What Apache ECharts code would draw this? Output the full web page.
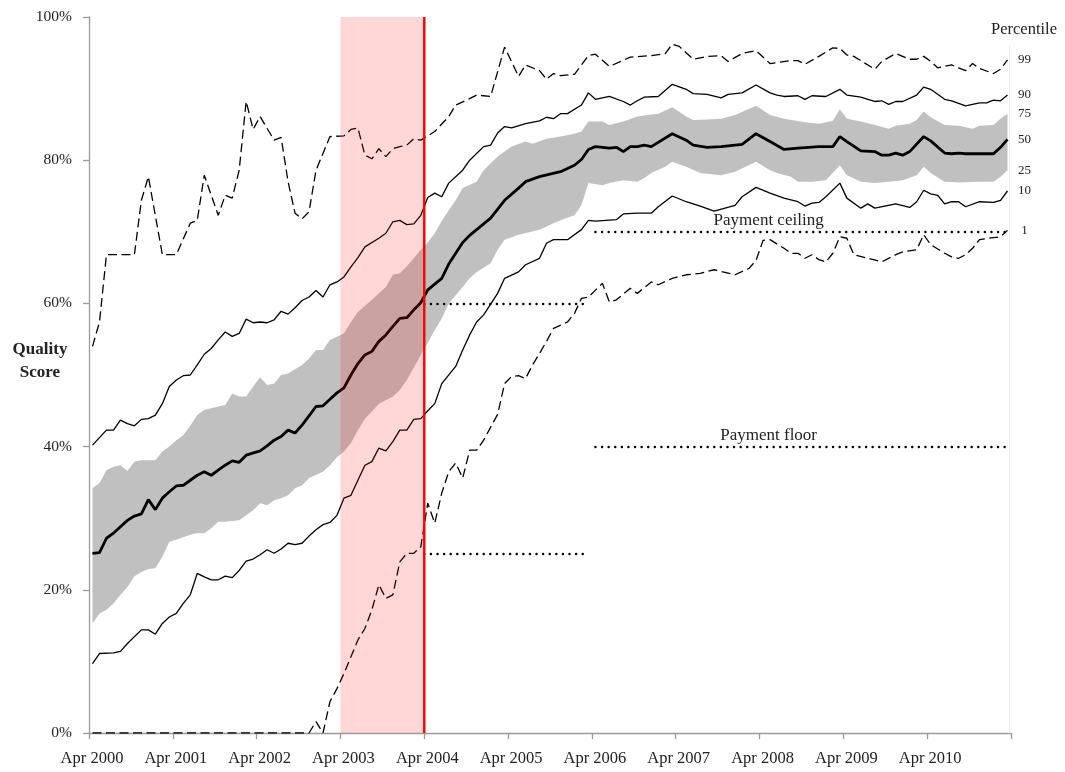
<!DOCTYPE html>
<html>
<head>
<meta charset="utf-8">
<script src="https://cdn.jsdelivr.net/npm/echarts@6/dist/echarts.min.js"></script>
<style>
  html, body { margin: 0; padding: 0; background: #fff; }
  #chart { width: 1065px; height: 772px; }
</style>
</head>
<body>
<div id="chart"></div>
<script>
// Quality score percentiles by month. Month index 0 = Apr 2000, 131 = Mar 2011.
// Each entry: [monthIndex, percent]
const p99 = [[0,54.0],[1,57.4],[2,66.8],[6,66.8],[7,74.4],[8,77.7],[10,66.8],[12,66.8],[14,71.2],[15,71.6],[16,77.9],[18,72.3],[19,75.1],[20,74.7],[21,78.6],[22,88.2],[23,84.3],[24,86.1],[26,82.8],[27,83.2],[28,77.0],[29,72.6],[30,71.8],[31,72.8],[32,78.6],[34,83.3],[36,83.4],[37,84.3],[38,84.5],[39,80.7],[40,80.2],[41,81.6],[42,80.5],[43,81.6],[44,81.9],[45,82.1],[46,83.0],[47,82.8],[49,84.0],[51,86.1],[52,87.7],[54,88.6],[55,89.1],[57,88.9],[59,95.8],[61,91.7],[62,93.3],[64,92.5],[65,91.3],[66,92.1],[67,91.8],[69,92.0],[71,94.6],[72,94.8],[74,93.1],[77,94.4],[80,94.6],[82,94.9],[83,96.2],[84,95.9],[86,94.1],[88,94.5],[90,94.6],[91,93.8],[93,94.9],[95,95.3],[97,93.5],[100,93.9],[101,93.9],[102,93.4],[104,94.5],[106,95.7],[107,95.6],[108,94.7],[109,94.5],[112,92.7],[113,93.8],[115,94.9],[117,94.1],[118,94.1],[119,94.5],[120,93.8],[121,92.9],[123,93.3],[124,92.9],[125,92.5],[126,93.5],[127,92.8],[129,92.1],[130,92.7],[131,94.0]];

const p90 = [[0,40.2],[2,42.3],[3,42.3],[4,43.7],[5,43.2],[6,42.9],[7,43.8],[8,43.9],[9,44.4],[10,46.0],[11,48.4],[12,49.3],[13,49.9],[14,50.0],[15,51.4],[16,52.9],[17,53.7],[18,54.9],[19,56.0],[20,55.4],[21,55.8],[22,57.8],[23,57.3],[24,57.4],[25,57.3],[26,57.7],[27,58.9],[28,58.5],[29,59.4],[30,60.4],[31,60.9],[32,61.8],[33,60.9],[34,62.6],[35,63.0],[36,63.7],[37,65.1],[38,66.4],[39,67.9],[41,69.1],[42,69.8],[43,71.4],[44,71.6],[45,71.0],[46,71.1],[47,72.3],[48,74.8],[49,75.4],[50,74.9],[51,76.8],[53,78.6],[54,80.0],[56,81.9],[57,82.1],[58,83.8],[59,84.7],[60,84.5],[62,85.1],[64,85.5],[65,86.0],[66,85.8],[67,86.5],[68,86.5],[70,87.7],[71,89.4],[72,88.5],[74,88.9],[76,88.2],[77,87.7],[78,88.3],[79,88.8],[81,88.9],[83,90.6],[85,89.9],[86,89.3],[88,89.2],[90,88.7],[91,89.2],[93,89.4],[95,90.5],[97,89.4],[98,89.1],[99,88.9],[101,89.0],[102,88.5],[103,89.0],[105,88.9],[107,89.9],[108,89.1],[110,88.8],[111,88.5],[112,88.2],[113,88.3],[114,87.8],[115,88.2],[116,88.2],[118,89.1],[119,90.2],[120,89.9],[122,88.5],[123,88.3],[125,87.6],[127,88.0],[128,88.0],[129,88.4],[130,88.3],[131,89.1]];

const p75 = [[0,34.2],[1,34.9],[2,36.7],[3,37.2],[4,37.4],[5,36.6],[6,37.9],[7,38.1],[9,38.1],[10,39.3],[11,40.0],[12,40.9],[13,41.6],[14,42.9],[15,44.4],[16,45.1],[18,45.6],[19,45.8],[20,47.4],[21,47.0],[22,47.0],[23,48.4],[24,49.7],[25,48.6],[26,48.8],[27,50.0],[28,50.2],[29,50.8],[30,51.4],[31,52.3],[32,53.5],[33,53.5],[34,54.9],[36,55.8],[37,57.4],[38,58.8],[40,60.5],[42,62.3],[43,64.0],[44,64.2],[45,65.2],[46,66.3],[47,67.5],[48,68.5],[49,69.8],[50,71.5],[51,73.0],[52,74.4],[53,76.1],[55,77.0],[56,78.6],[58,80.5],[60,81.9],[62,82.6],[63,82.3],[65,83.0],[67,83.3],[69,83.7],[70,84.0],[71,85.4],[73,85.4],[74,84.9],[76,85.4],[78,86.1],[80,86.4],[81,86.5],[83,87.4],[85,86.1],[86,85.6],[88,85.7],[90,85.8],[92,86.3],[95,87.6],[97,86.3],[99,85.8],[102,85.3],[104,85.1],[106,85.5],[107,87.1],[108,85.8],[110,85.4],[112,84.9],[114,84.4],[115,84.8],[117,85.1],[118,85.6],[119,86.8],[120,86.0],[122,84.9],[124,84.8],[126,84.4],[127,84.8],[129,84.9],[130,85.8],[131,86.5]];

const p50 = [[0,25.1],[1,25.2],[2,27.2],[3,27.9],[4,28.8],[5,29.7],[6,30.3],[7,30.6],[8,32.6],[9,31.2],[10,32.8],[11,33.7],[12,34.5],[13,34.6],[14,35.3],[15,36.0],[16,36.5],[17,36.0],[18,36.7],[19,37.4],[20,38.0],[21,37.8],[22,38.8],[24,39.4],[25,40.1],[26,40.9],[27,41.4],[28,42.3],[29,41.9],[30,43.0],[31,44.3],[32,45.6],[33,45.7],[34,46.6],[35,47.5],[36,48.2],[37,50.0],[38,51.6],[39,52.8],[40,53.3],[41,54.7],[42,55.6],[43,56.8],[44,57.9],[45,58.0],[46,59.1],[47,60.1],[48,61.9],[50,63.5],[51,65.5],[53,68.5],[54,69.5],[55,70.3],[57,71.9],[59,74.4],[61,76.1],[62,77.0],[64,77.7],[67,78.4],[69,79.3],[70,80.1],[71,81.5],[72,81.9],[74,81.7],[75,81.8],[76,81.2],[77,81.9],[78,81.9],[79,82.1],[80,81.9],[83,83.7],[85,82.8],[86,82.1],[88,81.8],[90,81.9],[93,82.2],[95,83.7],[97,82.6],[99,81.5],[101,81.7],[104,81.9],[106,81.9],[107,83.3],[108,82.6],[110,81.3],[112,81.2],[113,80.7],[114,80.7],[115,81.0],[116,80.7],[117,81.2],[119,83.3],[120,82.7],[122,81.0],[123,80.9],[124,81.0],[125,80.9],[127,80.9],[129,80.9],[130,81.8],[131,82.9]];

const p25 = [[0,15.3],[1,16.7],[2,17.2],[3,18.1],[4,19.3],[5,20.4],[6,21.9],[7,22.5],[8,22.9],[9,23.0],[10,24.6],[11,26.7],[12,27.0],[14,27.7],[15,27.9],[16,27.9],[17,28.6],[18,29.5],[19,29.5],[21,29.7],[22,30.4],[23,31.1],[24,32.1],[25,31.8],[26,32.5],[27,32.8],[28,33.2],[29,34.2],[30,34.6],[31,35.6],[33,36.5],[34,37.4],[35,38.5],[36,39.3],[37,40.5],[38,42.3],[39,43.9],[40,44.9],[41,46.0],[43,47.0],[44,47.9],[45,49.3],[46,51.0],[47,52.8],[48,54.5],[49,56.3],[50,57.9],[51,60.0],[53,62.3],[54,63.5],[55,64.4],[57,65.6],[58,67.5],[59,68.9],[61,69.6],[64,70.3],[66,71.2],[67,71.6],[69,72.3],[70,73.7],[71,76.8],[73,76.5],[74,76.8],[76,77.2],[78,77.0],[79,77.5],[80,78.2],[82,79.1],[83,79.8],[85,79.1],[87,78.2],[90,77.9],[92,78.4],[95,79.8],[97,78.6],[98,78.2],[100,77.7],[101,77.0],[103,77.0],[105,77.2],[107,79.3],[108,77.9],[110,77.0],[112,76.8],[114,77.0],[116,77.2],[118,77.9],[119,79.1],[120,78.2],[122,77.0],[124,76.9],[127,77.0],[129,77.0],[130,77.7],[131,78.6]];

const p10 = [[0,9.7],[1,11.1],[3,11.2],[4,11.4],[5,12.5],[7,14.4],[8,14.4],[9,13.8],[10,15.3],[11,16.2],[12,16.7],[13,18.1],[14,19.3],[15,22.3],[16,21.8],[17,21.4],[18,21.4],[19,21.9],[20,21.7],[21,22.7],[22,24.0],[23,24.3],[24,24.9],[25,25.6],[26,25.1],[27,25.7],[28,26.5],[29,26.3],[30,26.5],[31,27.5],[32,28.4],[33,29.1],[34,29.4],[35,30.4],[36,32.8],[37,33.2],[38,35.3],[39,37.4],[40,37.9],[41,39.8],[42,39.4],[43,40.7],[44,42.3],[45,42.3],[46,43.8],[47,43.9],[48,45.0],[49,46.0],[50,48.8],[52,51.2],[53,53.5],[54,55.6],[55,57.4],[56,58.4],[58,61.4],[59,63.5],[61,64.4],[62,65.4],[64,66.3],[65,68.4],[66,68.9],[68,68.9],[70,70.3],[71,71.6],[72,71.5],[75,71.7],[76,72.5],[78,72.6],[80,72.6],[81,73.5],[83,75.0],[85,74.2],[87,73.6],[89,72.9],[92,73.7],[93,74.9],[95,76.2],[97,75.4],[99,74.7],[101,74.2],[102,73.6],[103,74.0],[104,74.1],[105,74.9],[107,76.8],[108,74.7],[110,73.3],[111,73.9],[112,73.3],[115,73.9],[117,73.4],[118,74.2],[119,75.8],[120,75.3],[121,75.1],[122,73.9],[123,74.2],[124,74.2],[125,73.5],[127,74.2],[129,74.1],[130,74.4],[131,75.7]];

const p1 = [[0,0],[31,0],[32,1.6],[33,0],[34,4.4],[35,6.2],[36,8.3],[38,13.0],[39,14.6],[40,17.2],[41,20.7],[42,18.8],[43,19.3],[44,23.9],[45,25.1],[46,25.1],[47,26.0],[48,32.1],[49,29.3],[50,33.5],[51,36.5],[52,37.7],[53,35.6],[54,39.5],[55,39.5],[56,40.9],[58,44.5],[59,48.8],[60,49.8],[61,49.9],[62,49.5],[63,51.4],[64,53.0],[65,54.7],[66,56.5],[68,57.4],[69,58.6],[70,60.7],[71,60.9],[73,62.8],[74,60.2],[75,60.5],[77,62.1],[78,61.4],[80,63.0],[81,62.6],[83,63.5],[85,64.0],[87,64.2],[89,64.7],[92,64.0],[94,64.9],[95,66.0],[96,68.8],[97,68.9],[99,67.7],[100,67.0],[101,67.0],[102,66.3],[103,66.8],[104,66.1],[105,65.8],[106,67.0],[107,69.3],[108,69.1],[109,66.8],[111,66.3],[113,65.8],[115,66.8],[116,67.2],[118,67.5],[119,69.6],[120,68.2],[122,67.0],[123,66.5],[124,66.3],[125,66.8],[126,67.7],[127,68.9],[129,69.2],[130,69.3],[131,70.2]];

// Axis ticks (months since Apr 2000) and their labels
const tickMonths = [0,12,24,36,48,60,72,84,96,108,120];
const tickLabels = ['Apr 2000','Apr 2001','Apr 2002','Apr 2003','Apr 2004','Apr 2005','Apr 2006','Apr 2007','Apr 2008','Apr 2009','Apr 2010'];

// Transition period (Apr 2003 - Apr 2004) and payment thresholds
const transition = [36, 48];
const thresholdsEarly = { ceiling: 60, floor: 25, from: 48, to: 71.5 };
const thresholdsLate  = { ceiling: 70, floor: 40, from: 72.5, to: 131.5 };
const thresholdLabels = { ceiling: 'Payment ceiling', floor: 'Payment floor', at: 97.3 };

const FONT = "'Liberation Serif', 'DejaVu Serif', serif";
const TEXT = '#222';

// monthly points sit mid-month
const toXY = arr => arr.map(d => [d[0] + 0.5, d[1]]);

function endLabel(text) {
  return {
    show: true,
    formatter: text,
    distance: 17,
    align: 'center',
    verticalAlign: 'middle',
    color: TEXT,
    fontFamily: FONT,
    fontSize: 13
  };
}

function pctLine(name, data, opts) {
  return Object.assign({
    name: name,
    type: 'line',
    data: toXY(data),
    symbol: 'none',
    z: 3,
    silent: true,
    endLabel: endLabel(name)
  }, opts);
}

const dotted = { color: '#000', width: 2.4, type: [0.1, 6.5], cap: 'round' };

const chart = echarts.init(document.getElementById('chart'), null, { renderer: 'canvas' });

chart.setOption({
  animation: false,
  backgroundColor: '#fff',
  grid: { left: 89, right: 54, top: 17, bottom: 39, containLabel: false },
  xAxis: {
    type: 'value',
    min: 0,
    max: 132,
    interval: 12,
    axisLine: { show: true, lineStyle: { color: '#9a9a9a', width: 1.3 } },
    axisTick: { show: true, length: 6, lineStyle: { color: '#9a9a9a', width: 1.3 } },
    splitLine: { show: false },
    axisLabel: {
      margin: 17,
      color: TEXT,
      fontFamily: FONT,
      fontSize: 16.5,
      padding: [0, 0, 0, 6],
      formatter: v => {
        const i = tickMonths.indexOf(v);
        return i >= 0 ? tickLabels[i] : '';
      }
    }
  },
  yAxis: {
    type: 'value',
    min: 0,
    max: 100,
    interval: 20,
    axisLine: { show: true, lineStyle: { color: '#9a9a9a', width: 1.3 } },
    axisTick: { show: true, length: 6, lineStyle: { color: '#9a9a9a', width: 1.3 } },
    splitLine: { show: false },
    axisLabel: {
      margin: 17,
      color: TEXT,
      fontFamily: FONT,
      fontSize: 15.5,
      formatter: '{value}%'
    }
  },
  graphic: [
    {
      type: 'text',
      x: 40,
      y: 361,
      style: {
        text: 'Quality\nScore',
        font: "bold 17px 'Liberation Serif', 'DejaVu Serif', serif",
        fill: TEXT,
        align: 'center',
        verticalAlign: 'middle',
        lineHeight: 23
      }
    },
    {
      type: 'text',
      x: 1024,
      y: 30,
      style: {
        text: 'Percentile',
        font: "16.5px 'Liberation Serif', 'DejaVu Serif', serif",
        fill: TEXT,
        align: 'center',
        verticalAlign: 'middle'
      }
    }
  ],
  series: [
    // interquartile band (25th to 75th percentile)
    {
      name: 'band',
      type: 'custom',
      coordinateSystem: 'cartesian2d',
      data: [[0, 0]],
      z: 1,
      silent: true,
      renderItem: function (params, api) {
        const upper = toXY(p75).map(d => api.coord(d));
        const lower = toXY(p25).reverse().map(d => api.coord(d));
        return {
          type: 'polygon',
          shape: { points: upper.concat(lower) },
          style: { fill: '#c0c0c0' }
        };
      }
    },
    // band edges only carry their end labels
    pctLine('75', p75, { lineStyle: { opacity: 0 } }),
    pctLine('25', p25, { lineStyle: { opacity: 0 } }),
    pctLine('99', p99, { lineStyle: { color: '#000', width: 1.3, type: [9, 4.5] } }),
    pctLine('90', p90, { lineStyle: { color: '#000', width: 1.3 } }),
    pctLine('50', p50, { lineStyle: { color: '#000', width: 2.8 }, z: 4 }),
    pctLine('10', p10, { lineStyle: { color: '#000', width: 1.3 } }),
    pctLine('1', p1, { lineStyle: { color: '#000', width: 1.3, type: [9, 4.5] } }),
    // payment thresholds
    {
      name: 'thresholds',
      type: 'line',
      data: [],
      z: 4,
      silent: true,
      markLine: {
        silent: true,
        symbol: 'none',
        label: { show: false },
        lineStyle: dotted,
        data: [
          [{ coord: [thresholdsEarly.from, thresholdsEarly.ceiling] }, { coord: [thresholdsEarly.to, thresholdsEarly.ceiling] }],
          [{ coord: [thresholdsEarly.from, thresholdsEarly.floor] }, { coord: [thresholdsEarly.to, thresholdsEarly.floor] }],
          [{ coord: [thresholdsLate.from, thresholdsLate.ceiling] }, { coord: [thresholdsLate.to, thresholdsLate.ceiling] }],
          [{ coord: [thresholdsLate.from, thresholdsLate.floor] }, { coord: [thresholdsLate.to, thresholdsLate.floor] }],
          [
            { coord: [131.7, 0], lineStyle: { color: '#ececec', width: 1, type: 'solid' } },
            { coord: [131.7, 96] }
          ]
        ]
      },
      markPoint: {
        silent: true,
        symbol: 'circle',
        symbolSize: 0,
        label: {
          show: true,
          position: 'top',
          distance: 3,
          color: TEXT,
          fontFamily: FONT,
          fontSize: 17,
          formatter: p => p.name
        },
        data: [
          { name: thresholdLabels.ceiling, coord: [thresholdLabels.at, thresholdsLate.ceiling] },
          { name: thresholdLabels.floor, coord: [thresholdLabels.at, thresholdsLate.floor] }
        ]
      }
    },
    // transition year: translucent shading over band and lines, red marker at its end
    {
      name: 'transition',
      type: 'custom',
      coordinateSystem: 'cartesian2d',
      data: [transition],
      z: 20,
      silent: true,
      renderItem: function (params, api) {
        const topLeft = api.coord([api.value(0), 100]);
        const bottomRight = api.coord([api.value(1), 0]);
        return {
          type: 'group',
          children: [
            {
              type: 'rect',
              shape: {
                x: topLeft[0],
                y: topLeft[1],
                width: bottomRight[0] - topLeft[0],
                height: bottomRight[1] - topLeft[1]
              },
              style: { fill: 'rgba(255,0,0,0.155)' }
            },
            {
              type: 'line',
              shape: { x1: bottomRight[0], y1: topLeft[1], x2: bottomRight[0], y2: bottomRight[1] },
              style: { stroke: '#ff0000', lineWidth: 2.4 }
            }
          ]
        };
      }
    }
  ]
});
</script>
</body>
</html>
